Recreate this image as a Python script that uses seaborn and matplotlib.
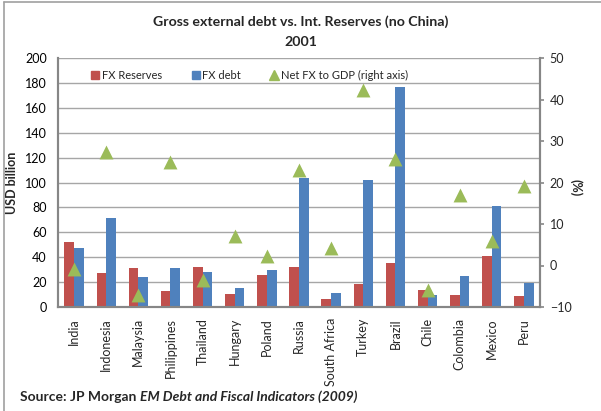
import matplotlib
matplotlib.use("Agg")
import matplotlib.pyplot as plt
from matplotlib.lines import Line2D
import seaborn as sns
import pandas as pd

countries = ["India", "Indonesia", "Malaysia", "Philippines", "Thailand", "Hungary",
             "Poland", "Russia", "South Africa", "Turkey", "Brazil", "Chile",
             "Colombia", "Mexico", "Peru"]
fx_reserves = [52, 27, 31, 13.2, 32.5, 10.2, 25.5, 32.5, 6.2, 18.5, 35.2, 14, 10, 40.6, 8.5]
fx_debt = [47.5, 71.5, 23.7, 31.7, 28.2, 15, 30, 103.4, 11, 101.8, 176.9, 10, 25.2, 80.9, 19.3]
net_fx_to_gdp = [-0.8, 27.4, -7.2, 25.0, -3.4, 7.1, 2.2, 23.0, 4.3, 42.3, 25.6, -5.9, 17.0, 5.8, 19.1]

RED = "#C0504D"
BLUE = "#4F81BD"
GREEN = "#9BBB59"
GRID = "#A6A6A6"
AXIS = "#868686"

sns.set_theme(style="white")
plt.rcParams["font.family"] = ["Lato", "DejaVu Sans"]

bars = pd.DataFrame({
    "country": countries * 2,
    "value": fx_reserves + fx_debt,
    "series": ["FX Reserves"] * len(countries) + ["FX debt"] * len(countries),
})
ratio = pd.DataFrame({"country": countries, "ratio": net_fx_to_gdp})

W, H = 601, 411
fig = plt.figure(figsize=(W / 100, H / 100), dpi=100)
ax = fig.add_axes([58 / W, 1 - 307 / H, (540 - 58) / W, (307 - 58) / H])

sns.barplot(data=bars, x="country", y="value", hue="series", order=countries,
            palette=[RED, BLUE], width=0.6, linewidth=0, saturation=1,
            errorbar=None, ax=ax, legend=False, zorder=2)

ax.set_ylim(0, 200)
ax.set_yticks(range(0, 201, 20))
ax.set_xlim(-0.5, len(countries) - 0.5)
ax.yaxis.grid(True, color=GRID, linewidth=1.0, zorder=0)
ax.set_axisbelow(True)
ax.set_xlabel("")
ax.set_ylabel("USD billion", fontsize=9, fontweight="bold")
ax.yaxis.set_label_coords(18 / W, 1 - 183 / H, transform=fig.transFigure)
ax.tick_params(axis="y", labelsize=9, length=0, pad=8, colors="#000000")
ax.tick_params(axis="x", labelsize=9, rotation=90, length=0, pad=8)
for lab in ax.get_xticklabels():
    lab.set_verticalalignment("top")
ax.spines["top"].set_visible(False)
for side in ["left", "bottom", "right"]:
    ax.spines[side].set_color(AXIS)
    ax.spines[side].set_linewidth(1.5)

ax2 = ax.twinx()
sns.stripplot(data=ratio, x="country", y="ratio", order=countries, jitter=False,
              marker="^", size=10, color=GREEN, linewidth=0, ax=ax2, zorder=3)
ax2.set_ylim(-10, 50)
ax2.set_yticks(range(-10, 51, 10))
ax2.set_xlim(-0.5, len(countries) - 0.5)
ax2.set_ylabel("(%)", fontsize=9, fontweight="bold", rotation=270)
ax2.yaxis.set_label_coords(576 / W, 1 - 188 / H, transform=fig.transFigure)
ax2.yaxis.label.set_verticalalignment("center")
ax2.tick_params(axis="y", labelsize=9, length=3, width=1.2, color=AXIS, pad=4)
ax2.spines["top"].set_visible(False)
for side in ["left", "bottom", "right"]:
    ax2.spines[side].set_color(AXIS)
    ax2.spines[side].set_linewidth(1.5)

handles = [
    Line2D([], [], marker="s", linestyle="none", color=RED, markersize=6),
    Line2D([], [], marker="s", linestyle="none", color=BLUE, markersize=6),
    Line2D([], [], marker="^", linestyle="none", color=GREEN, markersize=7),
]
ax2.legend(handles, ["FX Reserves", "FX debt", "Net FX to GDP (right axis)"],
           ncol=3, frameon=False, fontsize=8, loc="center left",
           bbox_to_anchor=(91 / W, 1 - 75 / H), bbox_transform=fig.transFigure,
           handletextpad=0.2, columnspacing=2.6, handlelength=0.8,
           borderaxespad=0, borderpad=0)

fig.text(0.5, 1 - 22 / H, "Gross external debt vs. Int. Reserves (no China)",
         ha="center", va="center", fontsize=10.2, fontweight="bold")
fig.text(0.5, 1 - 42 / H, "2001", ha="center", va="center",
         fontsize=10.2, fontweight="bold")

src = fig.text(20 / W, 1 - 397 / H, "Source: JP Morgan ", ha="left", va="center",
               fontsize=10, fontweight="bold")
fig.canvas.draw()
bb = src.get_window_extent()
fig.text(bb.x1 / fig.bbox.width, 1 - 397 / H,
         "EM Debt and Fiscal Indicators (2009)", ha="left", va="center",
         fontsize=10, fontweight="bold", style="italic")

# outer chart border
fig.add_artist(Line2D([3.5 / W, 3.5 / W], [0, 1 - 2.5 / H], color="#A0A0A0", linewidth=1.2))
fig.add_artist(Line2D([3.5 / W, 1], [1 - 2.5 / H, 1 - 2.5 / H], color="#A0A0A0", linewidth=1.2))

fig.savefig("out.png", dpi=100)
